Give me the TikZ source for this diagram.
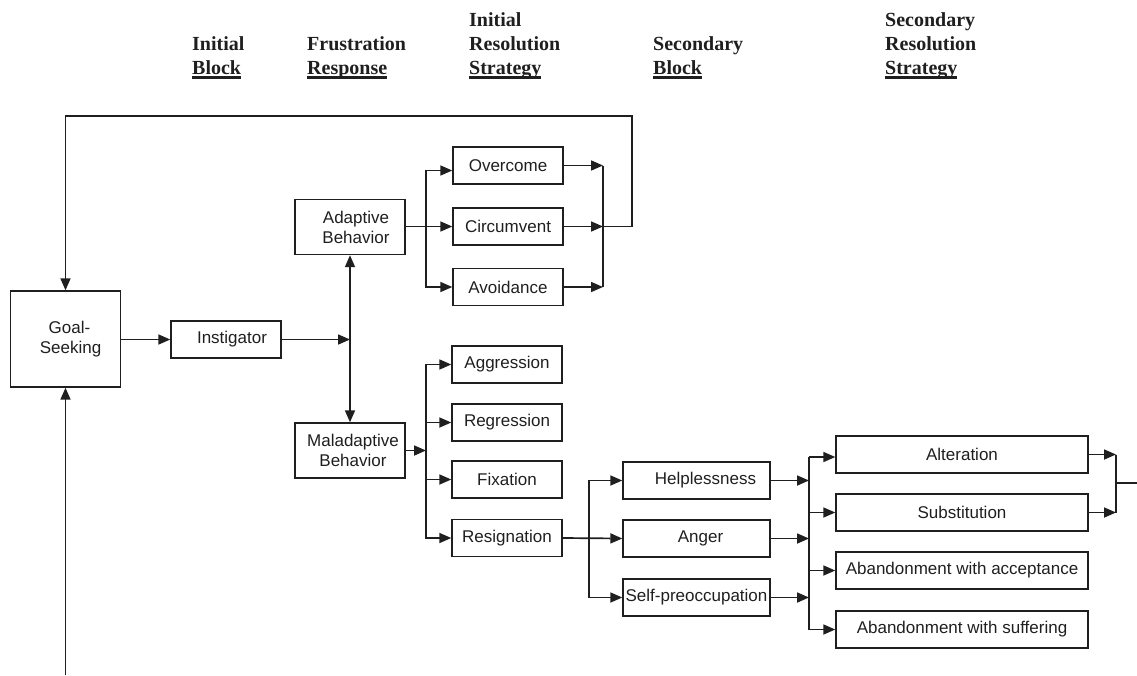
\documentclass[tikz,border=0pt]{standalone}
\usepackage{fontspec}
\setmainfont{Liberation Serif}
\newfontfamily\boxfont{Liberation Sans}
\usetikzlibrary{arrows.meta}
\newcommand\ulword[1]{\leavevmode\setbox0\hbox{#1}\rlap{\rule[-4.6pt]{\wd0}{2.6pt}}\box0}
\begin{document}
\begin{tikzpicture}[x=1pt,y=-1pt,
  box/.style={draw=black!88, line width=1.4pt, inner sep=0pt, font=\boxfont\fontsize{17}{20}\selectfont, align=center, text=black!88},
  sz/.style 2 args={minimum width=#1, minimum height=#2},
  tip/.tip={Triangle[length=12pt,width=10pt]},
  arr/.style={draw=black!88, line width=1.7pt, -tip},
  dbl/.style={draw=black!88, line width=1.7pt, tip-tip},
  ln/.style={draw=black!88, line width=1.7pt},
  hdr/.style={anchor=base west, inner sep=0pt, text=black!88, font=\bfseries\fontsize{20}{24}\selectfont}]
\useasboundingbox (0,0) rectangle (1137,675);

% headers
\node[hdr] (h1a) at (192,50) {Initial};
\node[hdr] (h1b) at (192,74) {\ulword{Block}};
\node[hdr] (h2a) at (307,50) {Frustration};
\node[hdr] (h2b) at (307,74) {\ulword{Response}};
\node[hdr] (h3a) at (469,26) {Initial};
\node[hdr] (h3b) at (469,50) {Resolution};
\node[hdr] (h3c) at (469,74) {\ulword{Strategy}};
\node[hdr] (h4a) at (653,50) {Secondary};
\node[hdr] (h4b) at (653,74) {\ulword{Block}};
\node[hdr] (h5a) at (885,26) {Secondary};
\node[hdr] (h5b) at (885,50) {Resolution};
\node[hdr] (h5c) at (885,74) {\ulword{Strategy}};

% boxes
\node[box, sz={110pt}{96pt}] (goal) at (65.5,339) {\hspace*{8pt}Goal-\\\hspace*{10pt}Seeking};
\node[box, sz={110pt}{37pt}] (inst) at (226,339.5) {\hspace*{12pt}Instigator};
\node[box, sz={110pt}{55pt}] (adapt) at (350,227) {\hspace*{12pt}Adaptive\\\hspace*{12pt}Behavior};
\node[box, sz={110pt}{55pt}] (malad) at (350,450.5) {\hspace*{6pt}Maladaptive\\\hspace*{6pt}Behavior};

\node[box, sz={110pt}{37pt}] (over) at (508,165.5) {Overcome};
\node[box, sz={110pt}{37pt}] (circ) at (508,226.5) {Circumvent};
\node[box, sz={110pt}{37pt}] (avoid) at (508,287) {Avoidance};

\node[box, sz={110pt}{37pt}] (aggr) at (507,364.5) {Aggression};
\node[box, sz={110pt}{37pt}] (regr) at (507,422.5) {Regression};
\node[box, sz={110pt}{37pt}] (fix) at (507,479.5) {Fixation};
\node[box, sz={110pt}{37pt}] (resig) at (507,538) {Resignation};

\node[box, sz={147pt}{37pt}] (help) at (696.5,480.5) {\hspace*{18pt}Helplessness};
\node[box, sz={147pt}{37pt}] (anger) at (696.5,538.5) {\hspace*{8pt}Anger};
\node[box, sz={147pt}{37pt}] (selfp) at (696.5,597.5) {Self-preoccupation};

\node[box, sz={252pt}{37pt}] (alter) at (962,454.5) {Alteration};
\node[box, sz={252pt}{37pt}] (subst) at (962,512.5) {Substitution};
\node[box, sz={252pt}{37pt}] (accept) at (962,570.5) {Abandonment with acceptance};
\node[box, sz={252pt}{37pt}] (suffer) at (962,629.5) {Abandonment with suffering};

% junction coordinates
\coordinate (b1) at (426,226.5);
\coordinate (c1) at (603,226.5);
\coordinate (fbr) at (632,226.5);
\coordinate (fbt) at (632,116);
\coordinate (fbl) at (65.5,116);
\coordinate (bot) at (65.5,675);
\coordinate (b2) at (426,450.5);
\coordinate (b3) at (589,538);
\coordinate (b4) at (809,538.5);
\coordinate (b5) at (1116,483);
\coordinate (out) at (1137,483);

% connectors
\draw[arr] (goal.east |- inst.west) -- (inst.west);
\draw[arr] (inst.east) -- (inst.east -| adapt.south);
\draw[dbl] (adapt.south) -- (malad.north);

\draw[arr] (adapt.east |- circ.west) -- (circ.west);
\draw[arr] (b1) |- ([yshift=-5pt]over.west);
\draw[arr] (b1) |- (avoid.west);

\draw[arr] (over.east) -- (over.east -| c1);
\draw[arr] (circ.east) -- (c1);
\draw[arr] (avoid.east) -- (avoid.east -| c1);
\draw[ln] (over.east -| c1) -- (avoid.east -| c1);
\draw[arr] (c1) -- (fbr) -- (fbt) -- (fbl) -- (goal.north);
\draw[arr] (bot) -- (goal.south);

\draw[arr] (malad.east) -- (b2);
\draw[arr] (b2) |- (aggr.west);
\draw[arr] (b2) |- (resig.west);
\draw[arr] (b2 |- regr.west) -- (regr.west);
\draw[arr] (b2 |- fix.west) -- (fix.west);

\draw[arr] (resig.east) -- (anger.west);
\draw[arr] (b3) |- (help.west);
\draw[arr] (b3) |- (selfp.west);

\draw[arr] (help.east) -- (help.east -| b4);
\draw[arr] (anger.east) -- (anger.east -| b4);
\draw[arr] (selfp.east) -- (selfp.east -| b4);
\draw[ln] ([yshift=-2.5pt]b4 |- alter.west) -- (b4 |- suffer.west);
\draw[arr] ([yshift=-2.5pt]b4 |- alter.west) -- ([yshift=-2.5pt]alter.west);
\draw[arr] (b4 |- subst.west) -- (subst.west);
\draw[arr] (b4 |- accept.west) -- (accept.west);
\draw[arr] (b4 |- suffer.west) -- (suffer.west);

\draw[arr] (alter.east) -- (alter.east -| b5);
\draw[arr] (subst.east) -- (subst.east -| b5);
\draw[ln] (alter.east -| b5) -- (subst.east -| b5);
\draw[ln] (b5) -- (out);
\end{tikzpicture}
\end{document}
